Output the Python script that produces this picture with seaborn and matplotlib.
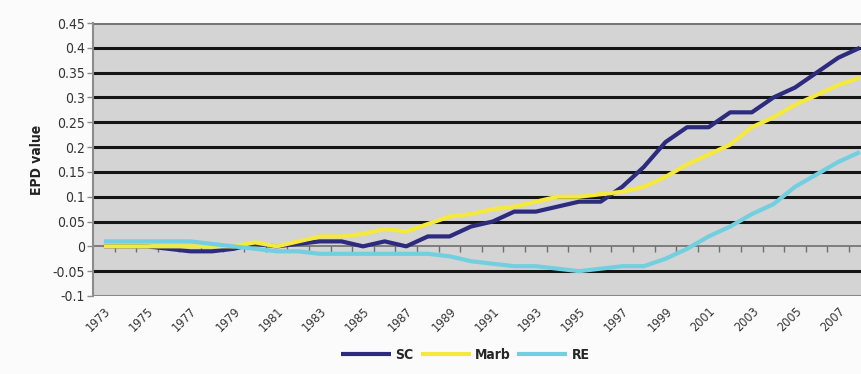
import numpy as np
import pandas as pd
import matplotlib
matplotlib.use("Agg")
import matplotlib.pyplot as plt
import seaborn as sns
from matplotlib.ticker import FuncFormatter

years = list(range(1973, 2009))

sc = [0.0, 0.0, 0.0, -0.005, -0.01, -0.01, -0.005, 0.005, 0.0, 0.005,
      0.01, 0.01, 0.0, 0.01, 0.0, 0.02, 0.02, 0.04, 0.05, 0.07,
      0.07, 0.08, 0.09, 0.09, 0.12, 0.16, 0.21, 0.24, 0.24, 0.27,
      0.27, 0.30, 0.32, 0.35, 0.38, 0.40]
marb = [0.0, 0.0, 0.0, 0.0, 0.0, 0.0, 0.0, 0.008, 0.0, 0.01,
        0.02, 0.02, 0.025, 0.035, 0.03, 0.045, 0.06, 0.065, 0.075, 0.08,
        0.09, 0.10, 0.10, 0.105, 0.11, 0.12, 0.14, 0.165, 0.185, 0.205,
        0.24, 0.26, 0.285, 0.305, 0.325, 0.34]
re_ = [0.01, 0.01, 0.01, 0.01, 0.01, 0.005, 0.0, -0.005, -0.01, -0.01,
       -0.015, -0.015, -0.015, -0.015, -0.015, -0.015, -0.02, -0.03, -0.035, -0.04,
       -0.04, -0.045, -0.05, -0.045, -0.04, -0.04, -0.025, -0.005, 0.02, 0.04,
       0.065, 0.085, 0.12, 0.145, 0.17, 0.19]

series_names = ["SC", "Marb", "RE"]
colors = {"SC": "#2c2b7e", "Marb": "#f4e93c", "RE": "#72cfe0"}
y_ticks = [-0.1, -0.05, 0, 0.05, 0.1, 0.15, 0.2, 0.25, 0.3, 0.35, 0.4, 0.45]

frame = pd.DataFrame({"year": years, "SC": sc, "Marb": marb, "RE": re_})
frame["pos"] = np.arange(len(years))
data = frame.melt(id_vars=["year", "pos"], value_vars=series_names,
                  var_name="series", value_name="epd")

sns.set_theme(style="white")
plt.rcParams["font.family"] = ["DejaVu Sans"]
plt.rcParams["font.stretch"] = "condensed"

fig = plt.figure(figsize=(8.62, 3.74), dpi=100, facecolor="#fbfbfb")
ax = fig.add_axes([0.108, 0.2086, 0.892, 0.7299])
ax.set_facecolor("#d4d4d4")

sns.lineplot(data=data, x="pos", y="epd", hue="series", hue_order=series_names,
             palette=colors, linewidth=3.0, ax=ax, legend=True,
             solid_joinstyle="round", solid_capstyle="butt")

ax.set_xlim(-0.5, 35.1)
ax.set_ylim(-0.1, 0.45)

# heavy black gridlines like the Excel original
for v in y_ticks[1:-1]:
    if v == 0:
        continue
    ax.axhline(v, color="#151515", lw=2.2, zorder=0.5)
ax.axhline(0.45, color="#777777", lw=2.2, zorder=0.5)
ax.axhline(-0.1, color="#8a8a8a", lw=2.2, zorder=0.5)

for side in ["top", "right", "bottom"]:
    ax.spines[side].set_visible(False)
ax.spines["left"].set_color("#8c8c8c")
ax.spines["left"].set_linewidth(1.5)

ax.set_yticks(y_ticks)
ax.yaxis.set_major_formatter(FuncFormatter(lambda v, _: f"{v:g}"))
ax.tick_params(axis="y", direction="out", length=4, width=1, color="#8c8c8c",
               labelsize=10, labelcolor="#333333", pad=2, left=True)

label_pos = list(range(0, len(years), 2))
ax.set_xticks(label_pos)
ax.set_xticklabels([str(years[i]) for i in label_pos], rotation=45,
                   ha="right", rotation_mode="anchor", fontsize=9,
                   color="#333333")
ax.tick_params(axis="x", length=0, pad=6)
ax.set_xlabel("")
ax.set_ylabel("EPD value", fontsize=10, fontweight="bold", color="#222222",
              labelpad=6)

# category axis crossing at zero with its boundary ticks
zero_axis = ax.secondary_xaxis(0, transform=ax.transData)
zero_axis.set_xticks(np.arange(0.5, len(years) - 0.5, 1.0))
zero_axis.set_xticklabels([])
zero_axis.tick_params(direction="out", length=4, width=1, color="#6e6e6e")
zero_axis.spines["bottom"].set_color("#6e6e6e")
zero_axis.spines["bottom"].set_linewidth(1.2)

handles, labels = ax.get_legend_handles_labels()
ax.legend(handles, labels, loc="center", bbox_to_anchor=(0.54, 0.05),
          bbox_transform=fig.transFigure, ncol=3, frameon=False,
          handlelength=3.6, handletextpad=0.3, columnspacing=0.5,
          prop={"size": 10, "weight": "bold", "stretch": "condensed"})

fig.savefig("out.png", dpi=100, facecolor=fig.get_facecolor())
